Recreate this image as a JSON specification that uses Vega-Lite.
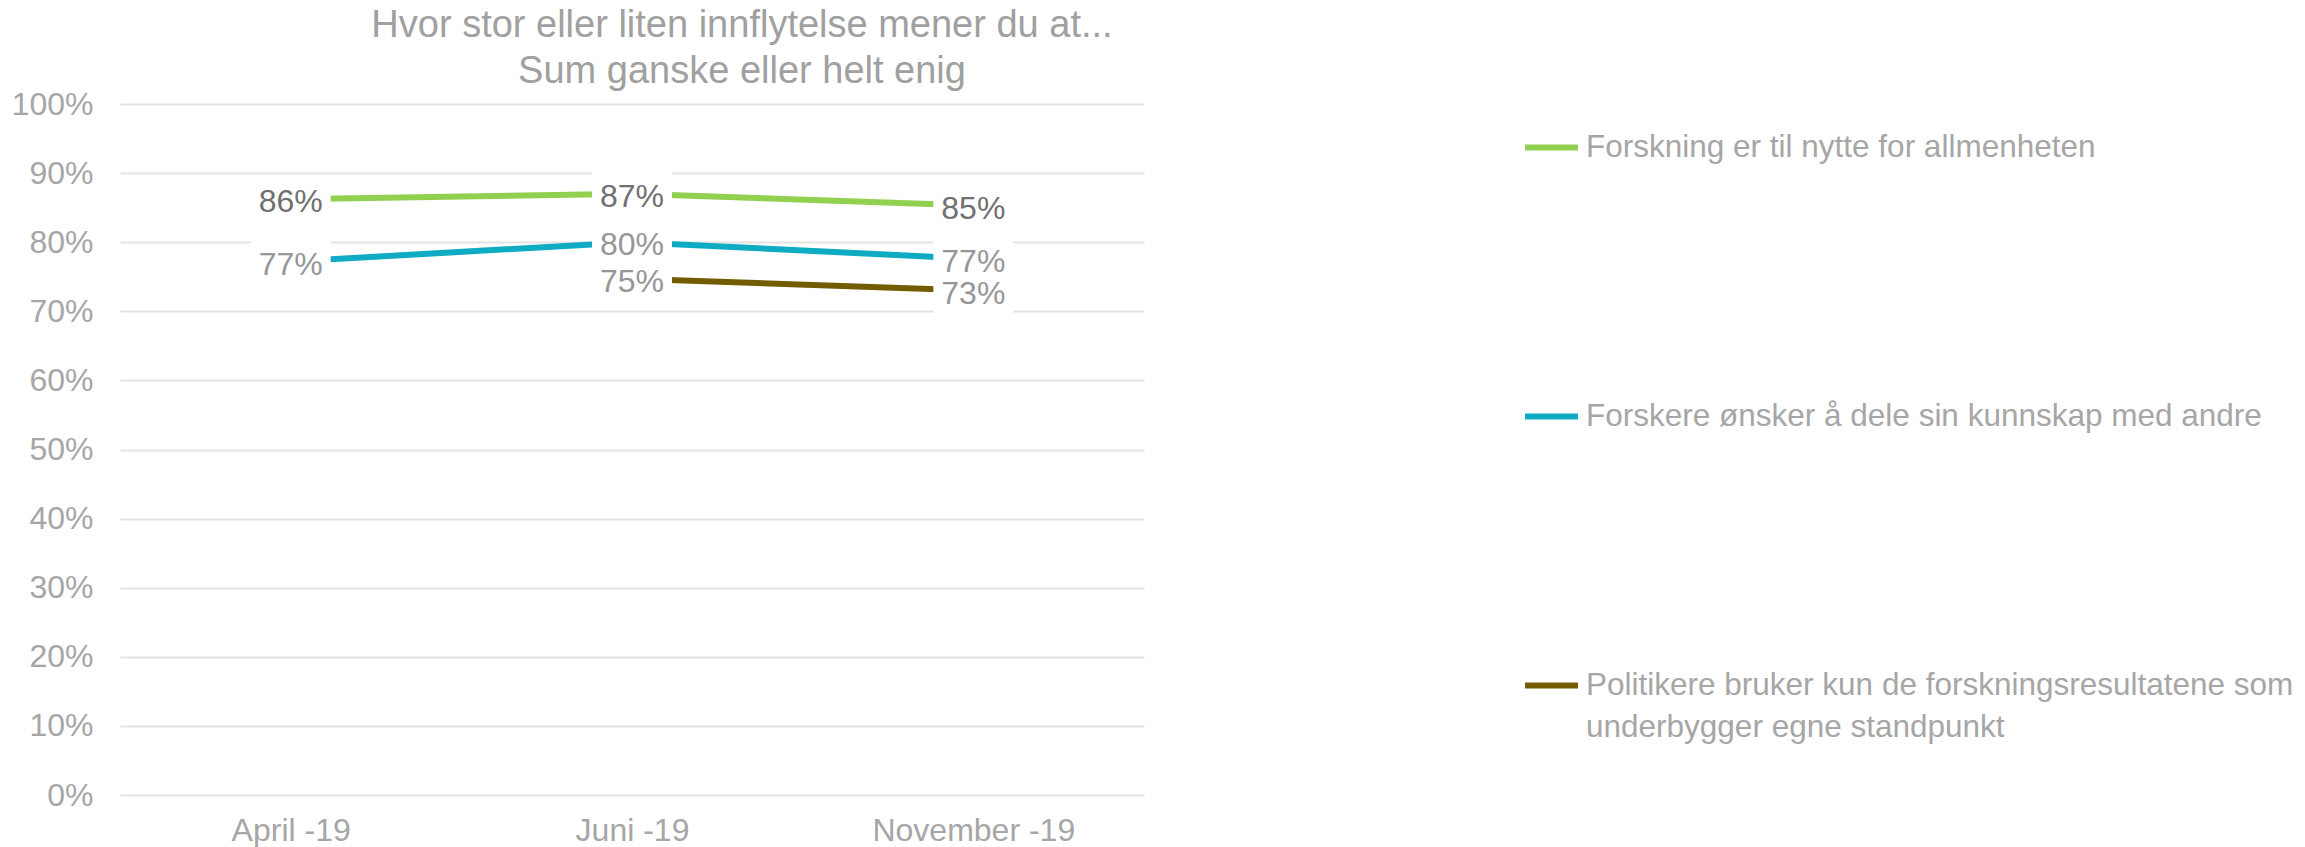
{
  "$schema": "https://vega.github.io/schema/vega-lite/v6.json",
  "autosize": "none",
  "width": 1024,
  "height": 691,
  "padding": {"left": 120, "top": 104, "right": 1161, "bottom": 52},
  "background": "white",
  "config": {
    "font": "Liberation Sans",
    "view": {"stroke": null}
  },
  "title": {
    "text": ["Hvor stor eller liten innflytelse mener du at...", "Sum ganske eller helt enig"],
    "anchor": "middle",
    "frame": "group",
    "dx": 110,
    "offset": -3,
    "fontSize": 38,
    "fontWeight": "normal",
    "lineHeight": 46,
    "color": "#a0a0a0",
    "font": "Liberation Sans"
  },
  "data": {
    "values": [
      {"period": "April -19", "series": "Forskning er til nytte for allmenheten", "value": 0.862, "label": "86%"},
      {"period": "Juni -19", "series": "Forskning er til nytte for allmenheten", "value": 0.870, "label": "87%"},
      {"period": "November -19", "series": "Forskning er til nytte for allmenheten", "value": 0.853, "label": "85%"},
      {"period": "April -19", "series": "Forskere ønsker å dele sin kunnskap med andre", "value": 0.772, "label": "77%"},
      {"period": "Juni -19", "series": "Forskere ønsker å dele sin kunnskap med andre", "value": 0.800, "label": "80%"},
      {"period": "November -19", "series": "Forskere ønsker å dele sin kunnskap med andre", "value": 0.776, "label": "77%"},
      {"period": "Juni -19", "series": "Politikere bruker kun de forskningsresultatene som underbygger egne standpunkt", "value": 0.747, "label": "75%"},
      {"period": "November -19", "series": "Politikere bruker kun de forskningsresultatene som underbygger egne standpunkt", "value": 0.730, "label": "73%"}
    ]
  },
  "encoding": {
    "x": {
      "field": "period",
      "type": "ordinal",
      "sort": ["April -19", "Juni -19", "November -19"],
      "scale": {"type": "point", "padding": 0.5},
      "axis": {
        "title": null,
        "domain": false,
        "ticks": false,
        "labelAngle": 0,
        "labelFontSize": 32,
        "labelColor": "#a6a6a6",
        "labelPadding": 20,
        "labelLimit": 500,
        "labelFont": "Liberation Sans"
      }
    },
    "y": {
      "field": "value",
      "type": "quantitative",
      "scale": {"domain": [0, 1], "nice": false, "zero": true},
      "axis": {
        "title": null,
        "format": ".0%",
        "values": [0, 0.1, 0.2, 0.3, 0.4, 0.5, 0.6, 0.7, 0.8, 0.9, 1],
        "domain": false,
        "ticks": false,
        "grid": true,
        "gridColor": "#e3e3e3",
        "gridWidth": 2,
        "labelFontSize": 32,
        "labelColor": "#a6a6a6",
        "labelPadding": 27,
        "labelFont": "Liberation Sans"
      }
    }
  },
  "layer": [
    {
      "mark": {"type": "line", "strokeWidth": 6},
      "encoding": {
        "color": {
          "field": "series",
          "type": "nominal",
          "scale": {
            "domain": [
              "Forskning er til nytte for allmenheten",
              "Forskere ønsker å dele sin kunnskap med andre",
              "Politikere bruker kun de forskningsresultatene som underbygger egne standpunkt"
            ],
            "range": ["#92d050", "#0fabc3", "#735c00"]
          },
          "legend": {
            "title": null,
            "orient": "none",
            "legendX": 1402,
            "legendY": 14,
            "symbolType": "stroke",
            "symbolSize": 2800,
            "symbolStrokeWidth": 6,
            "labelFontSize": 31.5,
            "labelColor": "#a6a6a6",
            "labelFont": "Liberation Sans",
            "labelOffset": 5,
            "labelLimit": 900,
            "rowPadding": 224,
            "labelExpr": "indexof(datum.label, 'Politikere') == 0 ? ['Politikere bruker kun de forskningsresultatene som', 'underbygger egne standpunkt'] : datum.label",
            "encode": {
              "labels": {
                "update": {
                  "lineHeight": {"value": 42}
                }
              }
            }
          }
        }
      }
    },
    {
      "mark": {
        "type": "point",
        "shape": "M-1,-0.57H1V0.57H-1Z",
        "filled": true,
        "fill": "white",
        "stroke": null,
        "opacity": 1,
        "size": 6400
      }
    },
    {
      "mark": {"type": "text", "fontSize": 32, "font": "Liberation Sans", "align": "center", "baseline": "middle", "dy": 3},
      "encoding": {
        "text": {"field": "label"},
        "color": {
          "condition": {"test": "datum.series == 'Forskning er til nytte for allmenheten'", "value": "#707070"},
          "value": "#969696"
        }
      }
    }
  ]
}
